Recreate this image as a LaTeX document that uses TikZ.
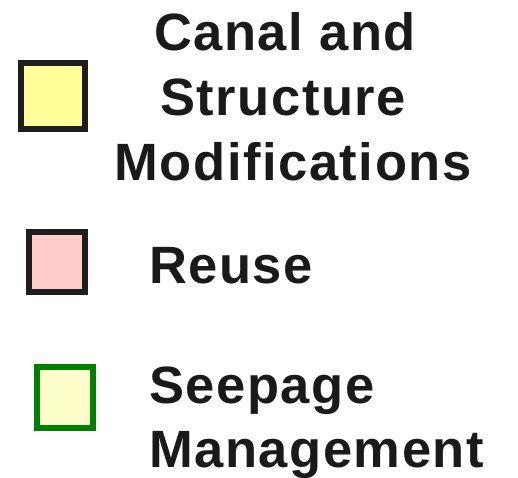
\documentclass[tikz,border=0pt]{standalone}
\usepackage{fontspec}
\setmainfont{Liberation Sans}[BoldFont={Liberation Sans Bold}]
\newfontfamily\legfont{Liberation Sans Bold}[LetterSpace=3]
\definecolor{txt}{HTML}{1A1A1A}
\definecolor{edge}{HTML}{1E1E1E}
\definecolor{yel}{HTML}{FFFF99}
\definecolor{pnk}{HTML}{FFCCCC}
\definecolor{pale}{HTML}{FFFFCC}
\definecolor{grn}{HTML}{008000}
\begin{document}
\begin{tikzpicture}[x=1pt,y=-1pt,
  lbl/.style={inner sep=0pt,outer sep=0pt,text=txt,font=\legfont\fontsize{52.5}{62}\selectfont},
  swatch/.style={line width=6pt,draw=edge}]
\useasboundingbox (0,0) rectangle (518,477);
\fill[white] (0,0) rectangle (518,477);
% swatches
\draw[swatch,fill=yel] (21,63) rectangle (85,129);
\draw[swatch,fill=pnk] (29,232) rectangle (85,292);
\draw[swatch,draw=grn,line width=5.5pt,fill=pale] (37,367) rectangle (93,428);
% labels
\node[lbl,anchor=base] (l1a) at (285,50) {Canal and};
\node[lbl,anchor=base] (l1b) at (283,115) {Structure};
\node[lbl,anchor=base] (l1c) at (293,180) {Modifications};
\node[lbl,anchor=base west] (l2) at (149,283) {Reuse};
\node[lbl,anchor=base west] (l3a) at (149,403) {Seepage};
\node[lbl,anchor=base west] (l3b) at (149,467) {Management};
\end{tikzpicture}
\end{document}
